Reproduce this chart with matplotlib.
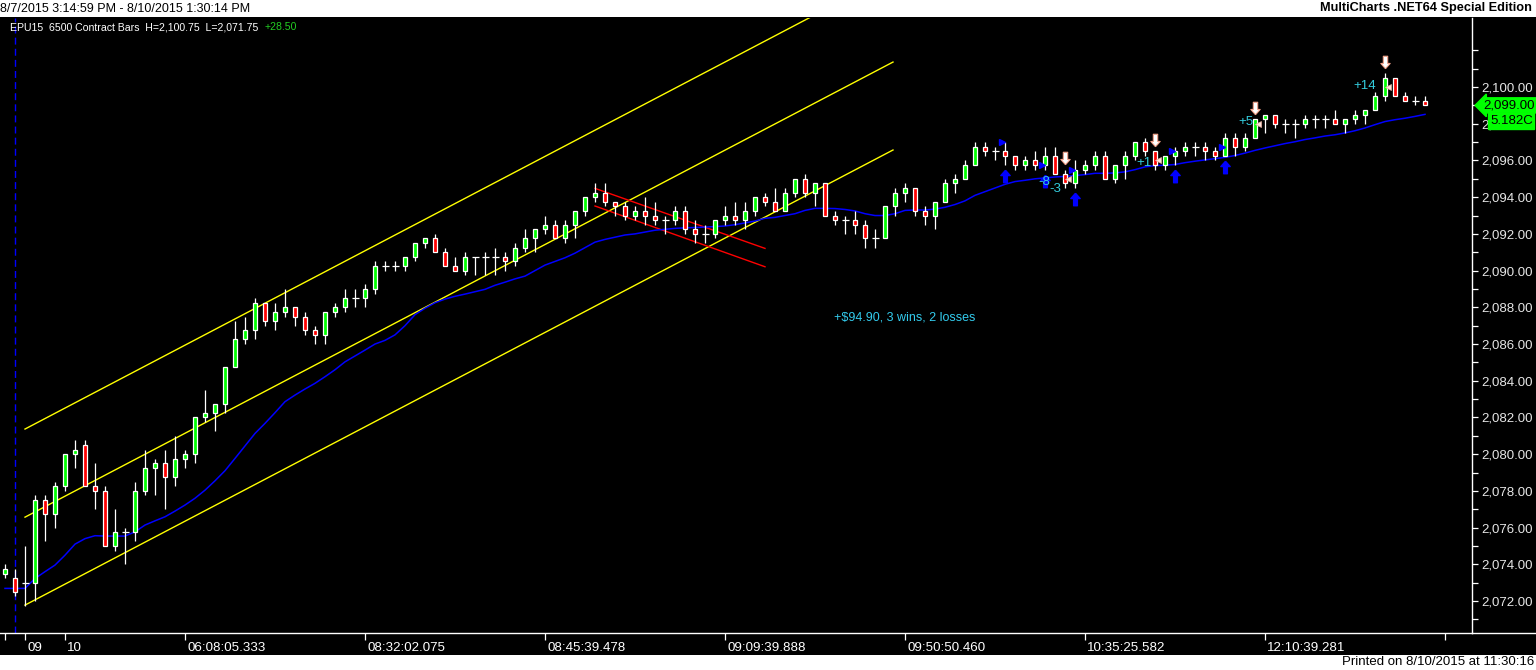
import numpy as np
import matplotlib
matplotlib.use('Agg')
import matplotlib.pyplot as plt
import matplotlib.transforms as mtransforms
from matplotlib.path import Path
from matplotlib.lines import Line2D
from matplotlib.patches import Rectangle
from matplotlib.ticker import FuncFormatter

# ---- bar data (EPU15, 6500 contract bars) ----
opens = [2073.5, 2073.25, 2073.0, 2073.0, 2077.5, 2076.75, 2078.25, 2080.0, 2080.5, 2078.25,
         2078.0, 2075.0, 2075.75, 2075.75, 2078.0, 2079.25, 2079.5, 2078.75, 2079.75, 2080.0,
         2082.0, 2082.25, 2082.75, 2084.75, 2086.25, 2086.75, 2088.25, 2087.25, 2087.75, 2088.0,
         2087.5, 2086.75, 2086.5, 2087.75, 2088.0, 2088.5, 2088.5, 2089.0, 2090.25, 2090.25,
         2090.25, 2090.75, 2091.5, 2091.75, 2091.0, 2090.25, 2090.0, 2090.75, 2090.75, 2090.75,
         2090.75, 2090.5, 2091.25, 2091.75, 2092.25, 2092.5, 2091.75, 2092.5, 2093.25, 2094.0,
         2094.25, 2093.75, 2093.5, 2093.0, 2093.25, 2093.0, 2092.75, 2092.75, 2093.25, 2092.25,
         2092.0, 2092.0, 2092.75, 2093.0, 2092.75, 2093.25, 2094.0, 2093.75, 2093.25, 2094.25,
         2095.0, 2094.25, 2094.75, 2093.0, 2092.75, 2092.75, 2092.5, 2091.75, 2091.75, 2093.5,
         2094.25, 2094.5, 2093.25, 2093.0, 2093.75, 2094.75, 2095.0, 2095.75, 2096.75, 2096.5,
         2096.5, 2096.25, 2095.75, 2096.0, 2095.75, 2096.25, 2095.25, 2094.75, 2095.5, 2095.75,
         2096.25, 2095.0, 2095.75, 2096.25, 2097.0, 2096.5, 2095.75, 2096.25, 2096.5, 2096.75,
         2096.75, 2096.5, 2096.25, 2097.25, 2096.75, 2097.25, 2098.25, 2098.5, 2098.0, 2098.0,
         2098.0, 2098.25, 2098.25, 2098.25, 2098.0, 2098.25, 2098.5, 2098.75, 2099.5, 2100.5,
         2099.5, 2099.25, 2099.25]
highs = [2074.0, 2073.75, 2075.0, 2077.75, 2077.75, 2078.5, 2080.0, 2080.75, 2080.75, 2079.5,
         2078.25, 2077.0, 2076.0, 2078.5, 2080.25, 2079.75, 2080.25, 2081.0, 2080.25, 2082.0,
         2083.5, 2082.75, 2084.75, 2087.25, 2087.5, 2088.5, 2088.25, 2088.25, 2089.0, 2088.0,
         2087.75, 2087.0, 2087.75, 2088.25, 2089.0, 2089.0, 2089.25, 2090.5, 2090.5, 2090.5,
         2090.75, 2091.5, 2091.75, 2092.0, 2091.25, 2090.75, 2091.0, 2090.75, 2091.0, 2091.25,
         2091.0, 2091.5, 2092.25, 2092.25, 2093.0, 2092.75, 2092.75, 2093.25, 2094.0, 2094.75,
         2094.75, 2093.75, 2093.75, 2093.5, 2094.0, 2093.75, 2093.0, 2093.5, 2093.5, 2092.75,
         2092.5, 2092.75, 2093.5, 2093.75, 2093.75, 2094.0, 2094.25, 2094.5, 2094.5, 2095.0,
         2095.25, 2094.75, 2094.75, 2093.25, 2093.0, 2093.25, 2092.75, 2092.25, 2093.5, 2094.5,
         2094.75, 2094.5, 2093.5, 2093.75, 2095.0, 2095.25, 2096.0, 2097.0, 2097.0, 2096.75,
         2097.0, 2096.25, 2096.25, 2096.5, 2096.75, 2096.75, 2095.5, 2096.0, 2096.0, 2096.5,
         2096.5, 2095.75, 2096.5, 2097.0, 2097.25, 2096.5, 2096.25, 2096.75, 2097.0, 2097.0,
         2097.0, 2096.75, 2097.5, 2097.5, 2097.5, 2098.25, 2098.5, 2098.5, 2098.25, 2098.25,
         2098.5, 2098.5, 2098.5, 2098.75, 2098.25, 2098.75, 2098.75, 2099.75, 2100.75, 2100.5,
         2099.75, 2099.5, 2099.5]
lows = [2073.25, 2072.25, 2071.75, 2072.0, 2075.25, 2076.0, 2078.0, 2079.25, 2078.25, 2077.0,
        2075.0, 2074.75, 2074.0, 2075.25, 2077.75, 2077.75, 2077.0, 2078.25, 2079.25, 2079.5,
        2081.75, 2081.25, 2082.25, 2084.75, 2086.0, 2086.25, 2087.0, 2086.75, 2087.5, 2087.0,
        2086.5, 2086.0, 2086.0, 2087.5, 2087.75, 2088.0, 2088.0, 2088.75, 2090.0, 2090.0,
        2090.0, 2090.5, 2091.25, 2091.0, 2090.25, 2090.0, 2089.75, 2089.75, 2089.75, 2089.75,
        2090.0, 2090.25, 2091.0, 2091.0, 2092.0, 2091.75, 2091.5, 2091.75, 2093.0, 2093.75,
        2093.5, 2093.0, 2092.75, 2092.75, 2092.5, 2092.5, 2092.0, 2092.5, 2092.0, 2091.5,
        2091.5, 2091.75, 2092.5, 2092.5, 2092.25, 2093.0, 2093.5, 2093.25, 2093.25, 2094.0,
        2094.0, 2093.5, 2093.0, 2092.5, 2092.0, 2092.0, 2091.25, 2091.25, 2091.75, 2093.0,
        2093.75, 2093.0, 2092.5, 2092.25, 2093.75, 2094.25, 2095.0, 2095.75, 2096.25, 2096.0,
        2095.75, 2095.5, 2095.5, 2095.5, 2095.5, 2095.25, 2094.5, 2094.5, 2095.25, 2095.5,
        2095.0, 2094.75, 2095.0, 2096.0, 2096.25, 2095.5, 2095.5, 2095.75, 2096.25, 2096.25,
        2096.0, 2096.0, 2096.25, 2096.25, 2096.5, 2097.25, 2097.5, 2097.75, 2097.5, 2097.25,
        2097.75, 2097.75, 2097.75, 2098.0, 2097.5, 2098.0, 2098.0, 2098.75, 2099.25, 2099.5,
        2099.25, 2099.0, 2099.0]
closes = [2073.75, 2072.5, 2073.0, 2077.5, 2076.75, 2078.25, 2080.0, 2080.25, 2078.25, 2078.0,
          2075.0, 2075.75, 2075.75, 2078.0, 2079.25, 2079.5, 2078.75, 2079.75, 2080.0, 2082.0,
          2082.25, 2082.75, 2084.75, 2086.25, 2086.75, 2088.25, 2087.25, 2087.75, 2088.0, 2087.5,
          2086.75, 2086.5, 2087.75, 2088.0, 2088.5, 2088.5, 2089.0, 2090.25, 2090.25, 2090.25,
          2090.75, 2091.5, 2091.75, 2091.0, 2090.25, 2090.0, 2090.75, 2090.75, 2090.75, 2090.75,
          2090.5, 2091.25, 2091.75, 2092.25, 2092.5, 2091.75, 2092.5, 2093.25, 2094.0, 2094.25,
          2093.75, 2093.5, 2093.0, 2093.25, 2093.0, 2092.75, 2092.75, 2093.25, 2092.25, 2092.0,
          2092.0, 2092.75, 2093.0, 2092.75, 2093.25, 2094.0, 2093.75, 2093.25, 2094.25, 2095.0,
          2094.25, 2094.75, 2093.0, 2092.75, 2092.75, 2092.5, 2091.75, 2091.75, 2093.5, 2094.25,
          2094.5, 2093.25, 2093.0, 2093.75, 2094.75, 2095.0, 2095.75, 2096.75, 2096.5, 2096.5,
          2096.25, 2095.75, 2096.0, 2095.75, 2096.25, 2095.25, 2094.75, 2095.5, 2095.75, 2096.25,
          2095.0, 2095.75, 2096.25, 2097.0, 2096.5, 2095.75, 2096.25, 2096.5, 2096.75, 2096.75,
          2096.5, 2096.25, 2097.25, 2096.75, 2097.25, 2098.25, 2098.5, 2098.0, 2098.0, 2098.0,
          2098.25, 2098.25, 2098.25, 2098.0, 2098.25, 2098.5, 2098.75, 2099.5, 2100.5, 2099.5,
          2099.25, 2099.25, 2099.0]

# blue moving average
avg_line = [2072.69, 2072.69, 2072.69, 2073.23, 2073.6, 2073.96, 2074.5, 2075.1, 2075.4, 2075.56,
            2075.54, 2075.54, 2075.54, 2075.77, 2076.14, 2076.37, 2076.59, 2076.9, 2077.23, 2077.6,
            2078.04, 2078.55, 2079.1, 2079.77, 2080.45, 2081.13, 2081.68, 2082.26, 2082.86, 2083.22,
            2083.55, 2083.86, 2084.22, 2084.6, 2085.03, 2085.35, 2085.67, 2086.0,
            2086.2, 2086.5, 2087.0, 2087.6, 2087.95, 2088.25, 2088.45, 2088.6, 2088.72, 2088.85,
            2088.98, 2089.2, 2089.37, 2089.55, 2089.7, 2090.0, 2090.3, 2090.5, 2090.7, 2090.95,
            2091.25, 2091.55, 2091.7, 2091.82, 2091.94, 2092.0, 2092.1, 2092.2, 2092.25, 2092.3,
            2092.33, 2092.35, 2092.37, 2092.4, 2092.43, 2092.5, 2092.6, 2092.7, 2092.85,
            2092.9, 2093.0, 2093.1, 2093.28, 2093.39, 2093.39, 2093.38, 2093.33, 2093.25, 2093.1,
            2093.0, 2093.0, 2093.1, 2093.28, 2093.3, 2093.3, 2093.35, 2093.45, 2093.6, 2093.8,
            2094.1, 2094.3, 2094.5, 2094.7, 2094.85, 2094.92, 2095.0, 2095.05, 2095.1, 2095.13,
            2095.18, 2095.23, 2095.3,
            2095.3, 2095.32, 2095.38, 2095.5, 2095.65, 2095.72, 2095.74, 2095.78, 2095.88, 2095.96,
            2096.03, 2096.1, 2096.17, 2096.27, 2096.4, 2096.55, 2096.68, 2096.8, 2096.92, 2097.02,
            2097.14, 2097.23, 2097.33, 2097.4, 2097.5, 2097.62, 2097.77, 2097.95, 2098.12, 2098.22,
            2098.3, 2098.4, 2098.51]

# drawn trend channel (yellow) and small down channel (red): bar index / price end points
channel_x = [2, 88.8]
channel_upper = [2081.37, 2106.16]
channel_mid = [2076.57, 2101.36]
channel_lower = [2071.78, 2096.57]
red_x = [59, 76]
red_upper = [2094.48, 2091.21]
red_lower = [2093.52, 2090.21]

# strategy trades
entry_bars = [100, 104, 107, 117, 122]
entry_prices = [2097.0, 2095.75, 2095.5, 2096.5, 2096.75]
exit_bars = [106, 115, 125, 138]
exit_prices = [2095.0, 2096.0, 2098.0, 2100.0]
pnl_text = ['-8', '-3', '+1', '+5', '+14']
pnl_x = [104.5, 105.6, 114.7, 124.8, 137.1]
pnl_y = [2094.8, 2094.45, 2095.86, 2098.1, 2100.05]

session_break = 1
xtick_pos = [0, 2, 6, 18, 36, 54, 72, 90, 108, 126, 144]
xtick_labels = ['', '09', '10', '06:08:05.333', '08:32:02.075', '08:45:39.478',
                '09:09:39.888', '09:50:50.460', '10:35:25.582', '12:10:39.281', '']

W, H = 1536, 670
fig = plt.figure(figsize=(W / 100, H / 100), dpi=100, facecolor='black')
ax = fig.add_axes([0, 1 - 633 / H, 1472 / W, (633 - 18) / H])
ax.set_facecolor('black')

# white strips top and bottom
fig.patches.append(Rectangle((0, 1 - 17 / H), 1, 17 / H, transform=fig.transFigure,
                             facecolor='white', edgecolor='none', zorder=0))
fig.patches.append(Rectangle((0, 0), 1, 15 / H, transform=fig.transFigure,
                             facecolor='white', edgecolor='none', zorder=0))

o = np.array(opens)
h = np.array(highs)
l = np.array(lows)
c = np.array(closes)
x = np.arange(len(c))

ax.axvline(session_break, color='#0000FF', lw=1, ls=(0, (5, 3)), zorder=1)

ax.plot(channel_x, channel_upper, color='#FFFF00', lw=1, zorder=1)
ax.plot(channel_x, channel_mid, color='#FFFF00', lw=1, zorder=1)
ax.plot(channel_x, channel_lower, color='#FFFF00', lw=1, zorder=1)
ax.plot(red_x, red_upper, color='#FF0000', lw=1, zorder=1)
ax.plot(red_x, red_lower, color='#FF0000', lw=1, zorder=1)

ax.plot(x, avg_line, color='#0000FF', lw=1.1, zorder=2)

# candles
ax.vlines(x, l, h, color='white', lw=0.9, zorder=3)
up = c > o
dn = c < o
dj = c == o
ax.bar(x[up], (c - o)[up], bottom=o[up], width=0.42, color='#00FF00',
       edgecolor='white', lw=0.9, zorder=4)
ax.bar(x[dn], (o - c)[dn], bottom=c[dn], width=0.42, color='#FF0000',
       edgecolor='white', lw=0.9, zorder=4)
ax.hlines(c[dj], x[dj] - 0.35, x[dj] + 0.35, color='white', lw=0.9, zorder=4)

# trade markers
up_arrow = Path([(0, 1), (0.75, 0.15), (0.3, 0.15), (0.3, -1), (-0.3, -1),
                 (-0.3, 0.15), (-0.75, 0.15), (0, 1)])
down_arrow = Path([(0, -1), (0.75, -0.15), (0.35, -0.15), (0.35, 1), (-0.35, 1),
                   (-0.35, -0.15), (-0.75, -0.15), (0, -1)])
eb = np.array(entry_bars)
xb = np.array(exit_bars)
ax.plot(eb, l[eb] - 0.62, ls='none', marker=up_arrow, ms=9, color='#0000FF',
        mec='#0000FF', zorder=6)
ax.plot(eb - 0.3, entry_prices, ls='none', marker='>', ms=5, color='#0000FF', zorder=6)
ax.plot(xb, h[xb] + 0.62, ls='none', marker=down_arrow, ms=9, color='white',
        mec='#F0A088', mew=0.8, zorder=6)
ax.plot(xb + 0.3, exit_prices, ls='none', marker='<', ms=5, color='#FFE4DC',
        mec='#E8B0A0', mew=0.5, zorder=6)
for t, tx, ty in zip(pnl_text, pnl_x, pnl_y):
    ax.text(tx, ty, t, color='#33CCDD', fontsize=9.5, ha='right', va='center',
            family='Liberation Sans', zorder=7)

ax.text(90, 2087.47, '+$94.90, 3 wins, 2 losses', color='#33CCEE', fontsize=9,
        ha='center', va='center', family='Liberation Sans', zorder=7)

ax.set_xlim(-0.5, 146.7)
ax.set_ylim(2070.26, 2103.76)

# price axis on the right
ax.yaxis.tick_right()
ax.set_yticks(np.arange(2072, 2101, 2))
ax.set_yticks(np.arange(2071, 2103, 1), minor=True)
ax.yaxis.set_major_formatter(FuncFormatter(lambda v, p: f'{v:,.2f}'))
ax.tick_params(axis='y', which='both', colors='white', direction='out', length=4, width=0.9)
ax.tick_params(axis='y', which='major', labelcolor='#E6E6E6', labelsize=9.5, pad=3)
for lab in ax.get_yticklabels():
    lab.set_family('Liberation Sans')

ax.set_xticks(xtick_pos)
ax.set_xticklabels(xtick_labels)
ax.tick_params(axis='x', colors='white', direction='out', length=5, width=0.9,
               labelsize=9.6, pad=2)
shift = mtransforms.ScaledTranslation(2 / 100, 1 / 100, fig.dpi_scale_trans)
for lab in ax.get_xticklabels():
    lab.set_ha('left')
    lab.set_family(['Liberation Sans Narrow', 'Liberation Sans'])
    lab.set_transform(lab.get_transform() + shift)

for side in ['left', 'top']:
    ax.spines[side].set_visible(False)
for side in ['right', 'bottom']:
    ax.spines[side].set_color('white')
    ax.spines[side].set_linewidth(1)
fig.add_artist(Line2D([1472 / W, 1], [1 - 633 / H, 1 - 633 / H], color='white', lw=1,
                      transform=fig.transFigure))

# last price and counter boxes
ytr = mtransforms.blended_transform_factory(ax.transAxes, ax.transData)
ax.text(1, closes[-1], '2,099.00', transform=ytr + mtransforms.ScaledTranslation(11 / 100, 0, fig.dpi_scale_trans),
        color='black', fontsize=9.5, family='Liberation Sans', va='center', ha='left',
        clip_on=False, zorder=8,
        bbox=dict(boxstyle='larrow,pad=0.12', fc='#00FF00', ec='#00FF00'))
ax.text(1, 2098.15, '5.182C', transform=ytr + mtransforms.ScaledTranslation(18 / 100, 0, fig.dpi_scale_trans),
        color='black', fontsize=9.5, family='Liberation Sans', va='center', ha='left',
        clip_on=False, zorder=8,
        bbox=dict(boxstyle='square,pad=0.12', fc='#00FF00', ec='#00FF00'))

# header / footer texts
fig.text(0.5 / W, 1 - 8.5 / H, '8/7/2015 3:14:59 PM - 8/10/2015 1:30:14 PM', color='black',
         fontsize=9, family='Liberation Sans', ha='left', va='center')
fig.text(1532 / W, 1 - 8.5 / H, 'MultiCharts .NET64 Special Edition', color='black',
         fontsize=9.2, fontweight='bold', family='Liberation Sans', ha='right', va='center')
fig.text(10 / W, 1 - 27 / H, 'EPU15  6500 Contract Bars  H=2,100.75  L=2,071.75', color='white',
         fontsize=7.6, family='Liberation Sans', ha='left', va='center')
fig.text(265 / W, 1 - 27 / H, '+28.50', color='#22CC22',
         fontsize=7.6, family='Liberation Sans', ha='left', va='center')
fig.text(1534 / W, 1 - 662 / H, 'Printed on 8/10/2015 at 11:30:16', color='black',
         fontsize=9.5, family=['Liberation Sans Narrow', 'Liberation Sans'], ha='right', va='center')

fig.savefig('out.png', dpi=100, facecolor='black')
